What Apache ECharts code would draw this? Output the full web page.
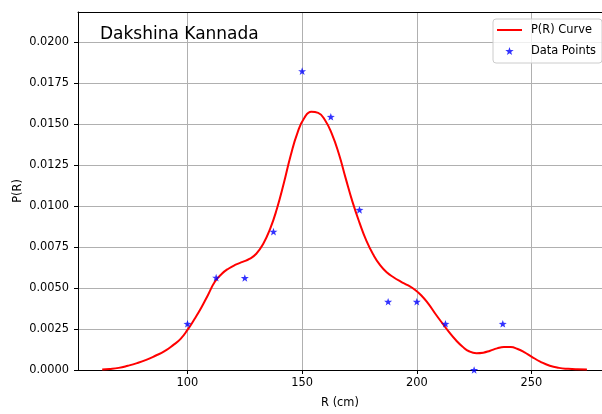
<!DOCTYPE html>
<html>
<head>
<meta charset="utf-8">
<script src="https://cdn.jsdelivr.net/npm/echarts@6/dist/echarts.min.js"></script>
<style>
  html, body { margin: 0; padding: 0; background: #fff; }
  #chart { width: 602px; height: 414px; }
</style>
</head>
<body>
<div id="chart"></div>
<script>
// Smoothed density curve P(R) over radius R (cm)
const curveR = [62.8, 66, 70, 74, 78, 82, 86, 90, 94, 97, 100, 103, 106, 109, 112, 115, 118, 121, 124, 127, 130, 133, 136, 139, 142, 145, 148, 151, 154, 157, 160, 163, 166, 169, 172, 175, 178, 181, 184, 187, 190, 193, 196, 199, 202, 205, 208, 211, 214, 217, 220, 223, 226, 229, 232, 235, 238, 241, 244, 247, 250, 254, 258, 262, 266, 270, 274.2];
const curveP = [0.00003, 0.00006, 0.00013, 0.00026, 0.00042, 0.00062, 0.00087, 0.00115, 0.00155, 0.00190, 0.00245, 0.00310, 0.00380, 0.00460, 0.00540, 0.00588, 0.00620, 0.00643, 0.00660, 0.00678, 0.00710, 0.00770, 0.00860, 0.00985, 0.01140, 0.01310, 0.01450, 0.01540, 0.01577, 0.01570, 0.01525, 0.01440, 0.01320, 0.01170, 0.01025, 0.00900, 0.00790, 0.00705, 0.00640, 0.00595, 0.00565, 0.00540, 0.00518, 0.00492, 0.00455, 0.00405, 0.00345, 0.00288, 0.00233, 0.00183, 0.00142, 0.00113, 0.00103, 0.00106, 0.00118, 0.00132, 0.00140, 0.00140, 0.00128, 0.00108, 0.00082, 0.00050, 0.00026, 0.00013, 0.00007, 0.00004, 0.00003];

// Histogram bin centres and their densities
const binR = [100, 112.5, 125, 137.5, 150, 162.5, 175, 187.5, 200, 212.5, 225, 237.5];
const binP = [0.00282, 0.00564, 0.00562, 0.00845, 0.01825, 0.01546, 0.00978, 0.00417, 0.00417, 0.00282, 0, 0.00282];

// Tick positions
const xTicks = [100, 150, 200, 250];
const yTicks = [0, 0.0025, 0.005, 0.0075, 0.01, 0.0125, 0.015, 0.0175, 0.02];

const FONT = 'DejaVu Sans';
const STAR = 'path://M0,-10 L2.35,-3.24 L9.51,-3.09 L3.8,1.24 L5.88,8.09 L0,4 L-5.88,8.09 L-3.8,1.24 L-9.51,-3.09 L-2.35,-3.24 Z';
const LINE_ICON = 'path://M0,0 H25 V2 H0 Z';

const X_MIN = 52.25, X_MAX = 280.77;

const chart = echarts.init(document.getElementById('chart'), null, { renderer: 'canvas' });

chart.setOption({
  animation: false,
  backgroundColor: '#fff',
  textStyle: { fontFamily: FONT },
  title: {
    text: 'Dakshina Kannada',
    left: 100,
    top: 26,
    padding: 0,
    textStyle: { fontFamily: FONT, fontSize: 17, fontWeight: 'normal', color: '#000' }
  },
  grid: { left: 78, top: 12, right: 0, bottom: 41 },
  legend: {
    left: 493, top: 19,
    orient: 'vertical',
    itemWidth: 25, itemHeight: 8, itemGap: 9,
    padding: [5, 6, 6, 4],
    borderColor: '#cccccc', borderWidth: 1, borderRadius: 3,
    backgroundColor: 'rgba(255,255,255,0.8)',
    textStyle: { fontFamily: FONT, fontSize: 11.4, color: '#000', lineHeight: 12, padding: [0, 0, 0, 4] },
    data: [
      { name: 'P(R) Curve', icon: LINE_ICON },
      { name: 'Data Points', icon: STAR }
    ]
  },
  xAxis: [
    {
      type: 'value',
      min: X_MIN, max: X_MAX,
      name: 'R (cm)',
      nameLocation: 'middle',
      nameGap: 28,
      nameMoveOverlap: false,
      nameTextStyle: { fontFamily: FONT, fontSize: 11.4, color: '#000' },
      axisLine: { show: true, onZero: false, lineStyle: { color: '#000', width: 1 } },
      axisTick: { show: true, inside: false, length: 4, customValues: xTicks, lineStyle: { color: '#000', width: 1 } },
      axisLabel: { customValues: xTicks, margin: 8, fontFamily: FONT, fontSize: 11.4, color: '#000' },
      splitLine: { show: true, customValues: xTicks, lineStyle: { color: '#b0b0b0', width: 1 } }
    },
    {
      // top frame edge
      type: 'value',
      position: 'top',
      min: X_MIN, max: X_MAX,
      axisLine: { show: true, onZero: false, lineStyle: { color: '#000', width: 1 } },
      axisTick: { show: false },
      axisLabel: { show: false },
      splitLine: { show: false }
    }
  ],
  yAxis: {
    type: 'value',
    min: 0, max: 0.02186,
    name: 'P(R)',
    nameLocation: 'middle',
    nameGap: 54,
    nameMoveOverlap: false,
    nameTextStyle: { fontFamily: FONT, fontSize: 11.4, color: '#000' },
    axisLine: { show: true, onZero: false, lineStyle: { color: '#000', width: 1 } },
    axisTick: { show: true, inside: false, length: 4, customValues: yTicks, lineStyle: { color: '#000', width: 1 } },
    axisLabel: {
      customValues: yTicks, margin: 9, fontFamily: FONT, fontSize: 11.4, color: '#000',
      formatter: v => v.toFixed(4)
    },
    splitLine: { show: true, customValues: yTicks, lineStyle: { color: '#b0b0b0', width: 1 } }
  },
  series: [
    {
      name: 'P(R) Curve',
      type: 'line',
      data: curveR.map((r, i) => [r, curveP[i]]),
      smooth: 0.5,
      symbol: 'none',
      lineStyle: { color: '#ff0000', width: 2 },
      itemStyle: { color: '#ff0000' },
      z: 2
    },
    {
      name: 'Data Points',
      type: 'scatter',
      data: binR.map((r, i) => [r, binP[i]]),
      symbol: STAR,
      symbolSize: 8,
      symbolKeepAspect: true,
      itemStyle: { color: '#0000ff' },
      z: 3
    }
  ]
});
</script>
</body>
</html>
